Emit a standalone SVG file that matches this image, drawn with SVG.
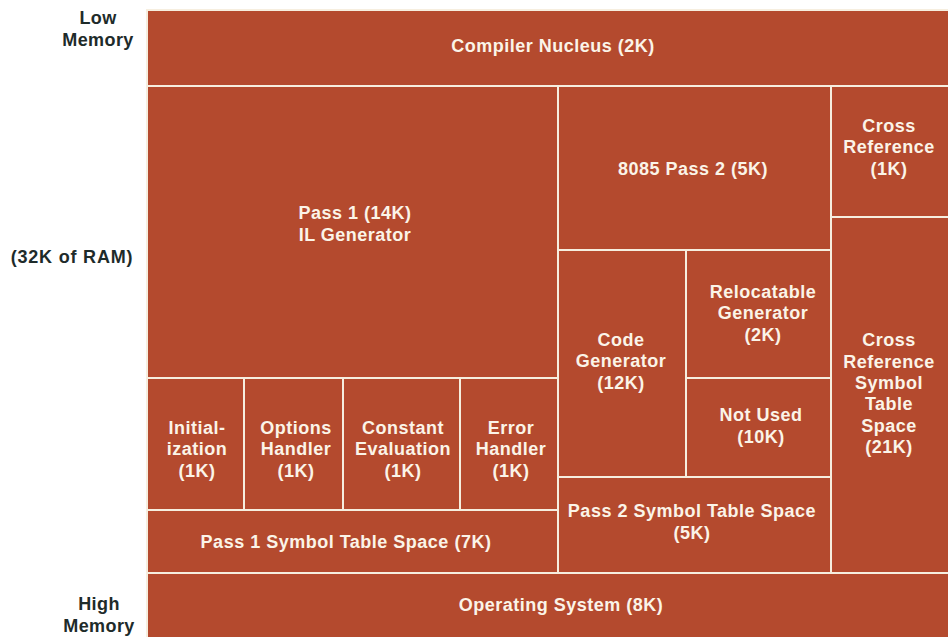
<svg xmlns="http://www.w3.org/2000/svg" width="948" height="637" viewBox="0 0 948 637">
<style>
.b{fill:#B44A2E;stroke:#F6EEDF;stroke-width:2}
.t{font-family:"Liberation Sans",Arial,sans-serif;font-weight:bold;font-size:18px;letter-spacing:0.5px;fill:#FBF4E8;text-anchor:middle}
.l{font-family:"Liberation Sans",Arial,sans-serif;font-weight:bold;font-size:18px;letter-spacing:0.4px;fill:#1E2B2A;text-anchor:middle}
</style>
<rect width="948" height="637" fill="#FFFFFF"/>
<g id="labels">
<text class="l" x="98" y="24">Low</text>
<text class="l" x="98" y="46">Memory</text>
<text class="l" x="72" y="263" style="letter-spacing:0.8px">(32K of RAM)</text>
<text class="l" x="99" y="610">High</text>
<text class="l" x="99" y="632">Memory</text>
</g>
<g id="nucleus"><rect class="b" x="147" y="10" width="803" height="76"/><text class="t" x="553" y="52">Compiler Nucleus (2K)</text></g>
<g id="pass1"><rect class="b" x="147" y="86" width="411" height="292"/><text class="t" x="355" y="219">Pass 1 (14K)</text><text class="t" x="355" y="241">IL Generator</text></g>
<g id="pass2"><rect class="b" x="558" y="86" width="273" height="164"/><text class="t" x="693" y="175">8085 Pass 2 (5K)</text></g>
<g id="crossref"><rect class="b" x="831" y="86" width="119" height="131"/><text class="t" x="889" y="132">Cross</text><text class="t" x="889" y="153">Reference</text><text class="t" x="889" y="175">(1K)</text></g>
<g id="codegen"><rect class="b" x="558" y="250" width="128" height="227"/><text class="t" x="621" y="346">Code</text><text class="t" x="621" y="367">Generator</text><text class="t" x="621" y="389">(12K)</text></g>
<g id="reloc"><rect class="b" x="686" y="250" width="145" height="128"/><text class="t" x="763" y="298">Relocatable</text><text class="t" x="763" y="319">Generator</text><text class="t" x="763" y="341">(2K)</text></g>
<g id="notused"><rect class="b" x="686" y="378" width="145" height="99"/><text class="t" x="761" y="421">Not Used</text><text class="t" x="761" y="443">(10K)</text></g>
<g id="crsym"><rect class="b" x="831" y="217" width="119" height="356"/><text class="t" x="889" y="346">Cross</text><text class="t" x="889" y="368">Reference</text><text class="t" x="889" y="389">Symbol</text><text class="t" x="889" y="410">Table</text><text class="t" x="889" y="432">Space</text><text class="t" x="889" y="453">(21K)</text></g>
<g id="init"><rect class="b" x="147" y="378" width="97" height="132"/><text class="t" x="197" y="434">Initial-</text><text class="t" x="197" y="455">ization</text><text class="t" x="197" y="477">(1K)</text></g>
<g id="options"><rect class="b" x="244" y="378" width="99" height="132"/><text class="t" x="296" y="434">Options</text><text class="t" x="296" y="455">Handler</text><text class="t" x="296" y="477">(1K)</text></g>
<g id="constant"><rect class="b" x="343" y="378" width="117" height="132"/><text class="t" x="403" y="434">Constant</text><text class="t" x="403" y="455">Evaluation</text><text class="t" x="403" y="477">(1K)</text></g>
<g id="error"><rect class="b" x="460" y="378" width="98" height="132"/><text class="t" x="511" y="434">Error</text><text class="t" x="511" y="455">Handler</text><text class="t" x="511" y="477">(1K)</text></g>
<g id="p1sym"><rect class="b" x="147" y="510" width="411" height="63"/><text class="t" x="346" y="548">Pass 1 Symbol Table Space (7K)</text></g>
<g id="p2sym"><rect class="b" x="558" y="477" width="273" height="96"/><text class="t" x="692" y="517">Pass 2 Symbol Table Space</text><text class="t" x="692" y="539">(5K)</text></g>
<g id="os"><rect class="b" x="147" y="573" width="803" height="66"/><text class="t" x="561" y="611">Operating System (8K)</text></g>
<g id="connectors"/>
</svg>
